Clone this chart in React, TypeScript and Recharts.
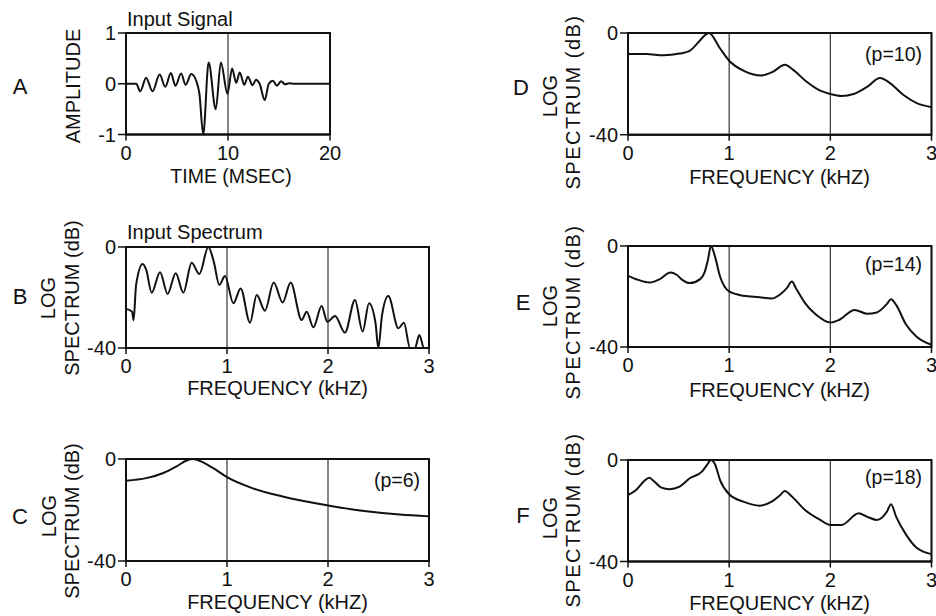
import React from 'react';
import { LineChart, Line, XAxis, YAxis, CartesianGrid, ReferenceArea } from 'recharts';

const FONT = '"Liberation Sans", Arial, Helvetica, sans-serif';

// axis ticks
const timeTicks = [0, 10, 20];
const ampTicks = [-1, 0, 1];
const freqTicks = [0, 1, 2, 3];
const dbTicks = [-40, 0];

// A - input signal (msec / amplitude)
const signalTime = [0, 1.0, 1.4, 1.97, 2.6, 3.3, 3.85, 4.4, 4.85, 5.4, 5.85, 6.4, 6.9, 7.2, 7.57, 8.1, 8.8, 9.3, 9.95, 10.4, 10.8, 11.15, 11.6, 11.95, 12.4, 12.75, 13.1, 13.6, 14.0, 14.4, 14.8, 15.2, 15.6, 16.0, 16.5, 20];
const signalAmp = [0, 0, -0.15, 0.12, -0.15, 0.18, -0.06, 0.21, -0.04, 0.2, -0.02, 0.19, 0.05, -0.2, -1.0, 0.42, -0.5, 0.42, -0.2, 0.3, 0.02, 0.22, -0.02, 0.14, -0.03, 0.08, 0.0, -0.32, 0.0, 0.06, -0.04, 0.05, -0.01, 0.01, 0, 0];

// B - input spectrum
const inputFreq = [0, 0.06, 0.075, 0.1, 0.165, 0.2, 0.254, 0.337, 0.412, 0.492, 0.568, 0.65, 0.726, 0.815, 0.87, 0.924, 0.98, 1.063, 1.135, 1.228, 1.294, 1.376, 1.462, 1.551, 1.63, 1.739, 1.789, 1.855, 1.937, 1.993, 2.07, 2.168, 2.267, 2.343, 2.406, 2.47, 2.498, 2.535, 2.597, 2.697, 2.752, 2.812, 2.861, 2.904, 2.951, 3.0];
const inputDb = [-24.5, -25.6, -29, -15, -6.7, -9, -18.1, -10.0, -18.6, -10.4, -18.1, -6.2, -10.7, 0, -6, -15.0, -11.5, -22.3, -16.4, -30.0, -19.0, -25.2, -14.1, -22.0, -14.1, -28.9, -25.6, -31.8, -23.4, -29.6, -27.3, -33.9, -21.0, -33.5, -22.3, -30, -40, -27, -19.4, -32.2, -30.0, -40, -40, -34.9, -40, -40];

// C - p=6
const p6Freq = [0, 0.2, 0.37, 0.5, 0.6, 0.66, 0.72, 0.86, 1.0, 1.25, 1.55, 2.0, 2.38, 2.71, 3.0];
const p6Db = [-8.5, -7.5, -5.5, -2.9, -0.6, 0, -0.6, -3.5, -7.1, -11.4, -14.7, -18.2, -20.5, -21.8, -22.5];

// D - p=10
const p10Freq = [0, 0.18, 0.35, 0.51, 0.61, 0.69, 0.76, 0.8, 0.907, 1.0, 1.14, 1.32, 1.43, 1.55, 1.63, 1.76, 1.9, 2.0, 2.11, 2.23, 2.37, 2.49, 2.59, 2.72, 2.85, 3.0];
const p10Db = [-8.3, -8.3, -8.8, -8.1, -7.0, -3.9, -0.9, 0, -5.9, -10.9, -14.8, -16.7, -15.3, -12.5, -14.4, -19.0, -22.7, -24.0, -24.8, -24.0, -21.0, -17.7, -19.7, -24.3, -27.5, -29.2];

// E - p=14
const p14Freq = [0, 0.1, 0.214, 0.31, 0.42, 0.48, 0.53, 0.61, 0.71, 0.76, 0.79, 0.82, 0.86, 0.91, 1.0, 1.14, 1.3, 1.42, 1.5, 1.57, 1.62, 1.66, 1.75, 1.86, 2.0, 2.09, 2.24, 2.36, 2.46, 2.56, 2.6, 2.65, 2.75, 2.85, 3.0];
const p14Db = [-11.8, -13.4, -14.5, -13.2, -10.5, -11.4, -13.2, -14.7, -13.2, -10.1, -5.5, 0, -4.2, -12.1, -18.0, -19.7, -20.3, -20.8, -19.3, -16.7, -14.1, -16.7, -22.6, -27.2, -30.3, -29.2, -25.3, -26.8, -26.3, -22.9, -21.1, -23.3, -31.2, -35.8, -39.1];

// F - p=18
const p18Freq = [0, 0.08, 0.16, 0.21, 0.26, 0.33, 0.41, 0.51, 0.61, 0.73, 0.78, 0.82, 0.86, 0.91, 1.0, 1.14, 1.3, 1.42, 1.5, 1.55, 1.62, 1.75, 1.9, 2.0, 2.11, 2.28, 2.36, 2.46, 2.56, 2.6, 2.65, 2.75, 2.85, 3.0];
const p18Db = [-13.8, -11.8, -8.3, -7.0, -8.5, -10.9, -11.5, -10.5, -7.2, -4.6, -2.0, 0, -1.7, -7.9, -13.5, -16.4, -18.0, -16.4, -14.0, -12.2, -14.4, -19.7, -23.6, -25.6, -25.6, -21.0, -22.3, -23.6, -20.3, -17.4, -22.3, -29.5, -34.5, -37.1];

type PanelProps = {
  left: number; top: number; w: number; h: number;
  xs: number[]; ys: number[];
  xDomain: [number, number]; xTicks: number[];
  yDomain: [number, number]; yTicks: number[];
};

function Panel({ left, top, w, h, xs, ys, xDomain, xTicks, yDomain, yTicks }: PanelProps) {
  const data = xs.map((x, i) => ({ x, y: ys[i] }));
  const tick = { fill: '#111', fontSize: 20, fontFamily: FONT };
  return (
    <div style={{ position: 'absolute', left: left - 50, top: top - 10 }}>
      <LineChart width={50 + w + 15} height={10 + h + 30} data={data} margin={{ top: 10, right: 15, left: 0, bottom: 0 }}>
        <CartesianGrid horizontal={false} stroke="#333" strokeWidth={1.2} />
        <XAxis
          type="number" dataKey="x" domain={xDomain} ticks={xTicks} interval={0}
          height={30} tickSize={6} tickMargin={5}
          axisLine={{ stroke: '#111', strokeWidth: 2 }}
          tickLine={{ stroke: '#111', strokeWidth: 1.5 }}
          tick={tick}
        />
        <YAxis
          type="number" dataKey="y" domain={yDomain} ticks={yTicks} interval={0}
          width={50} tickSize={8} tickMargin={2}
          axisLine={{ stroke: '#111', strokeWidth: 2 }}
          tickLine={{ stroke: '#111', strokeWidth: 1.5 }}
          tick={tick}
        />
        <ReferenceArea x1={xDomain[0]} x2={xDomain[1]} y1={yDomain[0]} y2={yDomain[1]} fill="none" stroke="#111" strokeWidth={2} />
        <Line type="monotone" dataKey="y" stroke="#111" strokeWidth={2} dot={false} isAnimationActive={false} />
      </LineChart>
    </div>
  );
}

function VLabel({ cx, cy, text, size = 20, spacing = 0 }: { cx: number; cy: number; text: string; size?: number; spacing?: number }) {
  const bx = cx + size * 0.36;
  return (
    <text x={bx} y={cy} transform={`rotate(-90 ${bx} ${cy})`} textAnchor="middle" fontSize={size} letterSpacing={spacing} fill="#111">
      {text}
    </text>
  );
}

function Letter({ cx, cy, t }: { cx: number; cy: number; t: string }) {
  return <text x={cx} y={cy + 8} textAnchor="middle" fontSize={22} fill="#111">{t}</text>;
}

export default function App() {
  return (
    <div style={{ position: 'absolute', left: 0, top: 0, width: 936, height: 616, overflow: 'hidden', background: '#fff', fontFamily: FONT }}>
      <Panel left={126} top={33} w={204} h={101.5} xs={signalTime} ys={signalAmp} xDomain={[0, 20]} xTicks={timeTicks} yDomain={[-1, 1]} yTicks={ampTicks} />
      <Panel left={126} top={247} w={303} h={101} xs={inputFreq} ys={inputDb} xDomain={[0, 3]} xTicks={freqTicks} yDomain={[-40, 0]} yTicks={dbTicks} />
      <Panel left={126} top={459} w={303} h={102} xs={p6Freq} ys={p6Db} xDomain={[0, 3]} xTicks={freqTicks} yDomain={[-40, 0]} yTicks={dbTicks} />
      <Panel left={628} top={33} w={303.5} h={101.7} xs={p10Freq} ys={p10Db} xDomain={[0, 3]} xTicks={freqTicks} yDomain={[-40, 0]} yTicks={dbTicks} />
      <Panel left={628} top={246} w={303.5} h={101} xs={p14Freq} ys={p14Db} xDomain={[0, 3]} xTicks={freqTicks} yDomain={[-40, 0]} yTicks={dbTicks} />
      <Panel left={628} top={460} w={303.5} h={101.5} xs={p18Freq} ys={p18Db} xDomain={[0, 3]} xTicks={freqTicks} yDomain={[-40, 0]} yTicks={dbTicks} />

      <svg width={936} height={616} style={{ position: 'absolute', left: 0, top: 0, pointerEvents: 'none' }} fontFamily={FONT}>
        {/* panel letters */}
        <Letter cx={20} cy={86} t="A" />
        <Letter cx={20} cy={296} t="B" />
        <Letter cx={20} cy={516} t="C" />
        <Letter cx={521} cy={87} t="D" />
        <Letter cx={523} cy={302} t="E" />
        <Letter cx={523} cy={515} t="F" />

        {/* titles */}
        <text x={127} y={26} fontSize={20} fill="#111">Input Signal</text>
        <text x={127} y={239} fontSize={20} fill="#111">Input Spectrum</text>

        {/* x axis titles */}
        <text x={231} y={183} textAnchor="middle" fontSize={19.5} fill="#111">TIME (MSEC)</text>
        <text x={277.5} y={395} textAnchor="middle" fontSize={20} fill="#111">FREQUENCY (kHZ)</text>
        <text x={277.5} y={609} textAnchor="middle" fontSize={20} fill="#111">FREQUENCY (kHZ)</text>
        <text x={779.5} y={184} textAnchor="middle" fontSize={20} fill="#111">FREQUENCY (kHZ)</text>
        <text x={779.5} y={397} textAnchor="middle" fontSize={20} fill="#111">FREQUENCY (kHZ)</text>
        <text x={779.5} y={610} textAnchor="middle" fontSize={20} fill="#111">FREQUENCY (kHZ)</text>

        {/* y axis titles */}
        <VLabel cx={73} cy={86} text="AMPLITUDE" />
        <VLabel cx={48} cy={298} text="LOG" />
        <VLabel cx={72} cy={298} text="SPECTRUM (dB)" />
        <VLabel cx={49} cy={516} text="LOG" />
        <VLabel cx={72} cy={521} text="SPECTRUM (dB)" />
        <VLabel cx={550} cy={96} text="LOG" />
        <VLabel cx={573} cy={102} text="SPECTRUM (dB)" spacing={1.5} />
        <VLabel cx={550} cy={306} text="LOG" />
        <VLabel cx={573} cy={312} text="SPECTRUM (dB)" spacing={1.5} />
        <VLabel cx={550} cy={518} text="LOG" />
        <VLabel cx={573} cy={520} text="SPECTRUM (dB)" spacing={1.5} />

        {/* model order labels */}
        <text x={420} y={487} textAnchor="end" fontSize={19.5} fill="#111">(p=6)</text>
        <text x={922} y={61} textAnchor="end" fontSize={19.5} fill="#111">(p=10)</text>
        <text x={922} y={271} textAnchor="end" fontSize={19.5} fill="#111">(p=14)</text>
        <text x={922} y={484} textAnchor="end" fontSize={19.5} fill="#111">(p=18)</text>
      </svg>
    </div>
  );
}
